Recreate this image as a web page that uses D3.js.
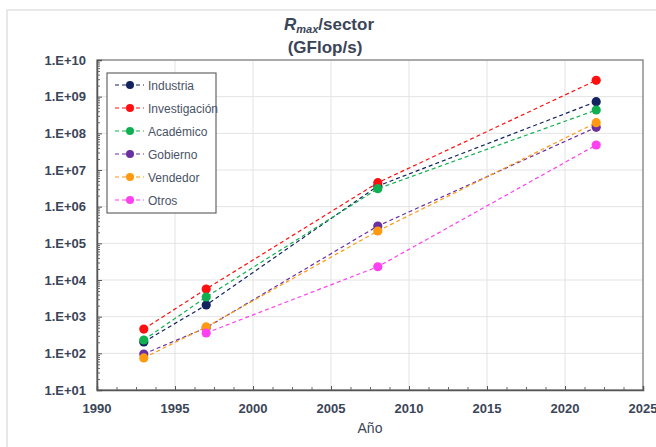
<!DOCTYPE html>
<html><head><meta charset="utf-8">
<script src="https://cdn.jsdelivr.net/npm/d3@7"></script>
<style>body{margin:0;background:#fff;}svg{display:block;font-family:"Liberation Sans",Arial,sans-serif;}</style>
</head><body><svg id="c" width="656" height="447"></svg>
<script>
const years = [1993, 1997, 2008, 2022];
const seriesNames = ["Industria","Investigación","Académico","Gobierno","Vendedor","Otros"];
const seriesColors = ["#13235f","#ff1010","#10b050","#6a2fa0","#ff9a10","#ff40f0"];
const industria     = [204, 2080, 3.66e6, 7.3e8];
const investigacion = [460, 5690, 4.5e6, 2.79e9];
const academico     = [231, 3440, 3.09e6, 4.33e8];
const gobierno      = [96, 500, 2.97e5, 1.46e8];
const vendedor      = [75, 524, 2.17e5, 1.95e8];
const otros         = [null, 359, 2.3e4, 4.8e7];
const seriesValues = [industria, investigacion, academico, gobierno, vendedor, otros];
const xTicks = [1990,1995,2000,2005,2010,2015,2020,2025];
const yTickLabels = ["1.E+01","1.E+02","1.E+03","1.E+04","1.E+05","1.E+06","1.E+07","1.E+08","1.E+09","1.E+10"];

const svg = d3.select("#c");
const L=97, R=643, T=60, B=390;
const x = d3.scaleLinear().domain([1990,2025]).range([L,R]);
const y = d3.scaleLog().domain([10,1e10]).range([B,T]);
const txt = "#3b4558";

svg.append("rect").attr("x",7).attr("y",10).attr("width",700).attr("height",500)
  .attr("fill","none").attr("stroke","#e2e2e2").attr("stroke-width",1.5);

// grid
const yMajors = d3.range(1,11).map(e=>Math.pow(10,e));
svg.append("g").selectAll("line").data(yMajors).join("line")
  .attr("x1",L).attr("x2",R).attr("y1",d=>y(d)).attr("y2",d=>y(d))
  .attr("stroke","#e3e3e3").attr("stroke-width",1);
svg.append("g").selectAll("line").data(xTicks).join("line")
  .attr("y1",T).attr("y2",B).attr("x1",d=>x(d)).attr("x2",d=>x(d))
  .attr("stroke","#e3e3e3").attr("stroke-width",1);

// plot frame
svg.append("rect").attr("x",L).attr("y",T).attr("width",R-L).attr("height",B-T)
  .attr("fill","none").attr("stroke","#7a7a7a").attr("stroke-width",1.2);

// y axis (inner ticks)
const yMinor = [];
for(let e=1;e<10;e++) for(let m=2;m<10;m++) yMinor.push(m*Math.pow(10,e));
const yAxis = d3.axisRight(y).tickValues(yMajors).tickSize(5).tickFormat("");
const ya = svg.append("g").attr("transform",`translate(${L},0)`).call(yAxis);
ya.select(".domain").attr("stroke","#555").attr("stroke-width",1.5);
ya.selectAll(".tick line").attr("stroke","#555");
const yAxisMinor = d3.axisRight(y).tickValues(yMinor).tickSize(3).tickFormat("");
const ym = svg.append("g").attr("transform",`translate(${L},0)`).call(yAxisMinor);
ym.select(".domain").remove();
ym.selectAll(".tick line").attr("stroke","#666");
svg.append("g").selectAll("text").data(yMajors).join("text")
  .attr("x",86).attr("y",d=>y(d)+4.5).attr("text-anchor","end")
  .attr("font-size",13).attr("font-weight","bold").attr("fill",txt)
  .text((d,i)=>yTickLabels[i]);

// x axis
const xMinor = d3.range(1990,2025.01,1.25).filter(v=>v%5!==0);
const xAxis = d3.axisTop(x).tickValues(xTicks).tickSize(4).tickFormat("");
const xa = svg.append("g").attr("transform",`translate(0,${B})`).call(xAxis);
xa.select(".domain").attr("stroke","#555").attr("stroke-width",1.5);
xa.selectAll(".tick line").attr("stroke","#555");
const xm = svg.append("g").attr("transform",`translate(0,${B})`).call(d3.axisTop(x).tickValues(xMinor).tickSize(3).tickFormat(""));
xm.select(".domain").remove();
xm.selectAll(".tick line").attr("stroke","#666");
svg.append("g").selectAll("text").data(xTicks).join("text")
  .attr("x",d=>x(d)).attr("y",413).attr("text-anchor","middle")
  .attr("font-size",13).attr("font-weight","bold").attr("fill",txt).text(d=>d);

svg.append("text").attr("x",370).attr("y",433).attr("text-anchor","middle")
  .attr("font-size",14).attr("fill",txt).text("Año");

// title
const t1 = svg.append("text").attr("x",329).attr("y",30).attr("text-anchor","middle")
  .attr("font-size",17).attr("font-weight","bold").attr("fill",txt);
t1.append("tspan").attr("font-style","italic").text("R");
t1.append("tspan").attr("font-style","italic").attr("font-size",11).attr("dy",3).text("max");
t1.append("tspan").attr("dy",-3).text("/sector");
svg.append("text").attr("x",325).attr("y",53).attr("text-anchor","middle")
  .attr("font-size",17).attr("font-weight","bold").attr("fill",txt).text("(GFlop/s)");

// series
const line = d3.line().defined(d=>d.v!=null).x(d=>x(d.yr)).y(d=>y(d.v));
seriesNames.forEach((name,i)=>{
  const pts = years.map((yr,j)=>({yr, v: seriesValues[i][j]}));
  svg.append("path").datum(pts).attr("d",line).attr("fill","none")
    .attr("stroke",seriesColors[i]).attr("stroke-width",1.2).attr("stroke-dasharray","4,3");
});
seriesNames.forEach((name,i)=>{
  const pts = years.map((yr,j)=>({yr, v: seriesValues[i][j]})).filter(d=>d.v!=null);
  svg.append("g").selectAll("circle").data(pts).join("circle")
    .attr("cx",d=>x(d.yr)).attr("cy",d=>y(d.v)).attr("r",4.6).attr("fill",seriesColors[i]);
});

// legend
const lg = svg.append("g");
lg.append("rect").attr("x",107).attr("y",73).attr("width",109).attr("height",140)
  .attr("fill","#fff").attr("stroke","#666").attr("stroke-width",1.2);
seriesNames.forEach((name,i)=>{
  const yy = 85 + i*23;
  lg.append("line").attr("x1",115).attr("x2",144).attr("y1",yy).attr("y2",yy)
    .attr("stroke",seriesColors[i]).attr("stroke-width",1.2).attr("stroke-dasharray","4,3");
  lg.append("circle").attr("cx",130).attr("cy",yy).attr("r",4).attr("fill",seriesColors[i]);
  lg.append("text").attr("x",148).attr("y",yy+4.5).attr("font-size",12).attr("fill","#4a5366").text(name);
});
</script></body></html>
